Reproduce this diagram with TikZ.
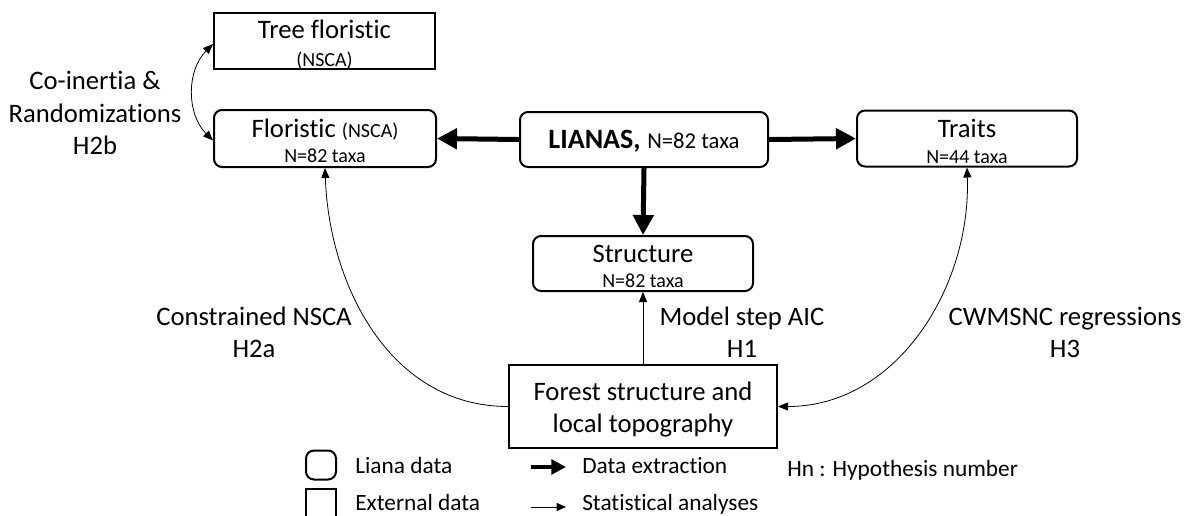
\documentclass[tikz,border=0pt]{standalone}
\usepackage{fontspec}
\setmainfont{Carlito}[Ligatures={NoCommon,NoContextual}]
\usetikzlibrary{arrows.meta}
\begin{document}
\begin{tikzpicture}[x=0.75pt,y=-0.75pt,
  lbox/.style={draw,line width=1.5pt,rounded corners=6pt,inner sep=0pt},
  ebox/.style={draw,line width=1.5pt,inner sep=0pt},
  txt/.style={inner sep=0pt,anchor=base},
  ltxt/.style={inner sep=0pt,anchor=base west,font=\fontsize{17.5}{21}\selectfont},
  big/.style={font=\fontsize{20}{24}\selectfont},
  sml/.style={font=\fontsize{15}{18}\selectfont},
  thickarr/.style={line width=3.75pt,-{Triangle[length=15pt,width=15pt]}},
  thinarr/.style={line width=0.6pt,-{Triangle[length=7.5pt,width=6pt]}},
  boththin/.style={line width=0.6pt,{Triangle[length=7.5pt,width=6pt]}-{Triangle[length=7.5pt,width=6pt]}},
]
\path[use as bounding box] (0,0) rectangle (1194,515);

% boxes
\node[ebox,minimum width=221*0.75pt,minimum height=56*0.75pt] (tree) at (324.5,41) {};
\node[lbox,minimum width=222*0.75pt,minimum height=57*0.75pt] (flor) at (325,138.5) {};
\node[lbox,minimum width=248*0.75pt,minimum height=55*0.75pt] (lian) at (644,139.5) {};
\node[lbox,minimum width=220*0.75pt,minimum height=56*0.75pt] (trait) at (967,138.5) {};
\node[lbox,minimum width=220*0.75pt,minimum height=55*0.75pt] (struc) at (643,263.5) {};
\node[ebox,minimum width=268*0.75pt,minimum height=83*0.75pt] (forest) at (643,406.5) {};

% box texts
\node[txt,big] (treet1) at (324.5,38) {Tree floristic};
\node[txt,sml] (treet2) at (324.5,66) {(NSCA)};
\node[txt,big] (flort1) at (325,137) {Floristic {\fontsize{15}{18}\selectfont(NSCA)}};
\node[txt,sml] (flort2) at (325,162) {N=82 taxa};
\node[txt] (liant) at (644,148) {{\fontsize{21}{25}\selectfont\bfseries LIANAS,}\hspace{5pt}{\fontsize{17}{20}\selectfont N=82 taxa}};
\node[txt,big] (traitt1) at (967,137) {Traits};
\node[txt,sml] (traitt2) at (967,163) {N=44 taxa};
\node[txt,big] (struct1) at (643,262) {Structure};
\node[txt,sml] (struct2) at (643,287) {N=82 taxa};
\node[txt,big] (forestt1) at (643,400) {Forest structure and};
\node[txt,big] (forestt2) at (643,432) {local topography};

% thick connectors
\draw[thickarr] (lian.west) -- (flor.east);
\draw[thickarr] (lian.east) -- (trait.west);
\draw[thickarr] (lian.south) -- (struc.north);

% thin connectors
\draw[thinarr] (forest.north) -- (struc.south);
\draw[thinarr] (forest.west) to[out=180,in=-88] (flor.south);
\draw[boththin] (forest.east) to[out=0,in=-88] (trait.south);
\draw[boththin] ([yshift=-3*0.75pt]tree.west) to[out=225,in=135] ([yshift=-2*0.75pt]flor.west);

% labels
\node[txt,big] (co1) at (95,89) {Co-inertia \&};
\node[txt,big] (co2) at (95,122) {Randomizations};
\node[txt,big] (co3) at (95,154) {H2b};
\node[txt,big] (cn1) at (254,325) {Constrained NSCA};
\node[txt,big] (cn2) at (254,357) {H2a};
\node[txt,big] (ms1) at (742,325) {Model step AIC};
\node[txt,big] (ms2) at (742,357) {H1};
\node[txt,big] (cw1) at (1065,325) {CWMSNC regressions};
\node[txt,big] (cw2) at (1065,357) {H3};

% legend
\node[lbox,minimum width=30*0.75pt,minimum height=29*0.75pt] (legl) at (321,465) {};
\node[ebox,minimum width=30*0.75pt,minimum height=30*0.75pt] (lege) at (321,504) {};
\node[ltxt] (leglt) at (355,473) {Liana data};
\node[ltxt] (leget) at (355,510) {External data};
\coordinate (la1) at (531,467);
\coordinate (la2) at (566,467);
\coordinate (lb1) at (531,507);
\coordinate (lb2) at (566,507);
\draw[line width=3pt,-{Triangle[length=11pt,width=11pt]}] (la1) -- (la2);
\draw[line width=0.6pt,-{Triangle[length=7pt,width=6pt]}] (lb1) -- (lb2);
\node[ltxt] (ladt) at (582,473) {Data extraction};
\node[ltxt] (lbst) at (582,510) {Statistical analyses};
\node[ltxt] (hn) at (787,476) {Hn : Hypothesis number};
\end{tikzpicture}
\end{document}
